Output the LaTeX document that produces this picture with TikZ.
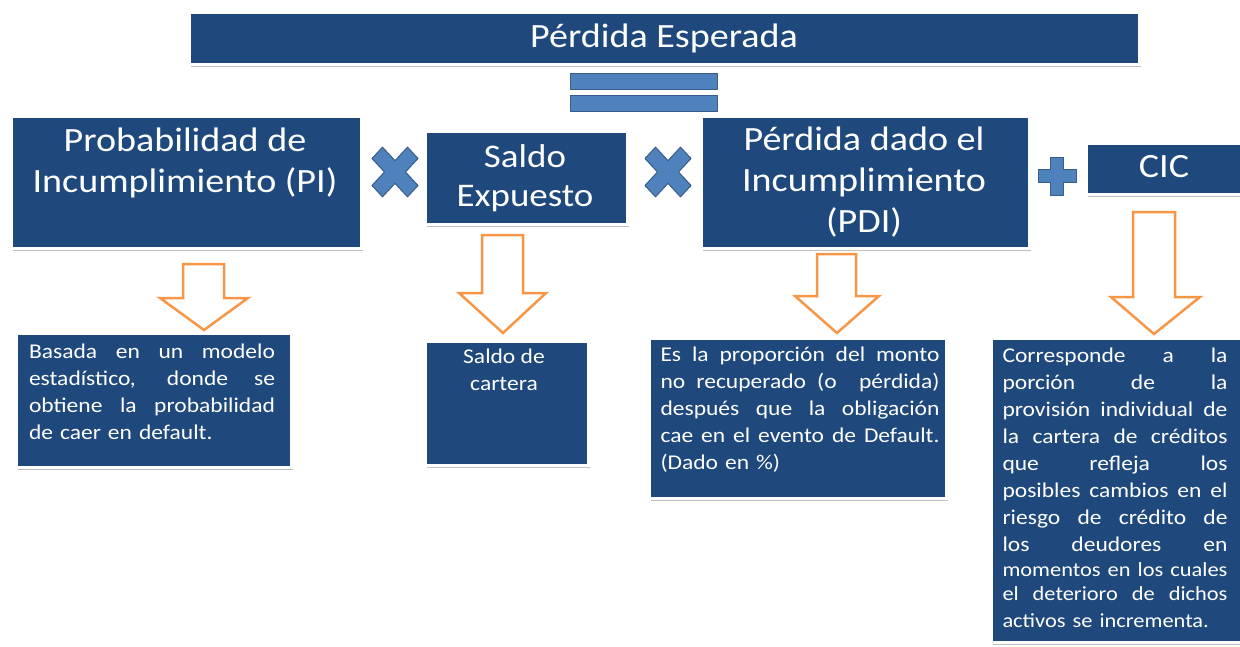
\documentclass[tikz,border=0pt]{standalone}
\usepackage{fontspec}
\setmainfont{Carlito}[FakeStretch=1.12]
\usetikzlibrary{shadows}
\definecolor{dblue}{HTML}{1F497D}
\definecolor{mblue}{HTML}{4F81BD}
\definecolor{bblue}{HTML}{385D8A}
\definecolor{orng}{HTML}{F79646}
\newcommand{\jw}{200pt}
\newcommand{\jline}[1]{\noindent\hbox to \jw{\spaceskip=.25em plus 1fil\relax #1}\par}
\begin{document}
\begin{tikzpicture}[x=1pt,y=-1pt,
  box/.style={fill=dblue, draw=white, line width=2.5pt, anchor=north west, inner sep=0pt,
    drop shadow={shadow xshift=1.8pt, shadow yshift=-3pt, opacity=0.25, fill=black}},
  htext/.style={text=white, align=center, inner sep=0pt, font=\fontsize{34}{41}\selectfont},
  dtext/.style={text=white, align=left, inner sep=0pt, font=\fontsize{21}{27}\selectfont},
  sym/.style={fill=mblue, draw=bblue, line width=1pt, line join=round},
  barrow/.style={draw=orng, line width=2.5pt, fill=white, line join=miter}
]
\useasboundingbox (0,0) rectangle (1240,646);

% header boxes
\node[box, minimum width=950pt, minimum height=52pt] (pe) at (188,11) {};
\node[htext] (pet) at (664,38) {Pérdida Esperada};

\node[box, minimum width=350pt, minimum height=132pt] (pi) at (10,115) {};
\node[htext] (pit) at (185,163) {Probabilidad de\\Incumplimiento (PI)};

\node[box, minimum width=202pt, minimum height=93pt] (se) at (424,130) {};
\node[htext, font=\fontsize{33}{39}\selectfont] (set) at (525,178) {Saldo\\Expuesto};

\node[box, minimum width=328pt, minimum height=132pt] (pdi) at (700,115) {};
\node[htext] (pdit) at (864,182) {Pérdida dado el\\Incumplimiento\\(PDI)};

\node[box, minimum width=165pt, minimum height=51pt] (cic) at (1085,142) {};
\node[htext] (cict) at (1164,167) {CIC};

% equals sign
\draw[sym] (570,73) rectangle (717,89);
\draw[sym] (570,95) rectangle (717,111);

% multiplication signs
\foreach \cx in {395,668}{
\draw[sym, shift={(\cx,172)}, yscale=1.08]
  (0,-10.5) -- (12.5,-23) -- (23,-12.5) -- (10.5,0) -- (23,12.5) -- (12.5,23)
  -- (0,10.5) -- (-12.5,23) -- (-23,12.5) -- (-10.5,0) -- (-23,-12.5) -- (-12.5,-23) -- cycle;
}
% plus sign
\draw[sym, shift={(1057,176)}]
  (-6.5,-19) -- (6.5,-19) -- (6.5,-6.5) -- (19,-6.5) -- (19,6.5) -- (6.5,6.5)
  -- (6.5,19) -- (-6.5,19) -- (-6.5,6.5) -- (-19,6.5) -- (-19,-6.5) -- (-6.5,-6.5) -- cycle;

% orange block arrows
\draw[barrow] (183,264) -- (183,298) -- (160,298) -- (204,330) -- (248,298) -- (224,298) -- (224,264) -- cycle;
\draw[barrow] (482,235) -- (482,293) -- (459,293) -- (503,333) -- (546,293) -- (523,293) -- (523,235) -- cycle;
\draw[barrow] (817,254) -- (817,296) -- (795,296) -- (837,333) -- (879,296) -- (856,296) -- (856,254) -- cycle;
\draw[barrow] (1133,212) -- (1133,297) -- (1111,297) -- (1154,334) -- (1200,297) -- (1175,297) -- (1175,212) -- cycle;

% description boxes
\node[box, minimum width=275pt, minimum height=134pt] (d1) at (15,332) {};
\node[dtext, text width=246pt] (d1t) at (152,392) {\renewcommand{\jw}{246pt}\jline{Basada en un modelo}\jline{estadístico, donde se}\jline{obtiene la probabilidad}de caer en default.};

\node[box, minimum width=163pt, minimum height=124pt] (d2) at (424,340) {};
\node[dtext, align=center] (d2t) at (504,370) {Saldo de\\cartera};

\node[box, minimum width=297pt, minimum height=160pt] (d3) at (648,337) {};
\node[dtext, text width=279pt] (d3t) at (800,410) {\renewcommand{\jw}{279pt}\jline{Es la proporción del monto}\jline{no recuperado (o\ \ pérdida)}\jline{después que la obligación}\jline{cae en el evento de Default.}(Dado en \%)};

\node[box, minimum width=260pt, minimum height=304pt] (d4) at (990,337) {};
\node[dtext, text width=225pt] (d4t) at (1115,488) {\renewcommand{\jw}{225pt}\jline{Corresponde a la}\jline{porción de la}\jline{provisión individual de}\jline{la cartera de créditos}\jline{que refleja los}\jline{posibles cambios en el}\jline{riesgo de crédito de}\jline{los deudores en}{\fontsize{20}{24.5}\selectfont\jline{momentos en los cuales}\jline{el deterioro de dichos}activos se incrementa.}};
\end{tikzpicture}
\end{document}
